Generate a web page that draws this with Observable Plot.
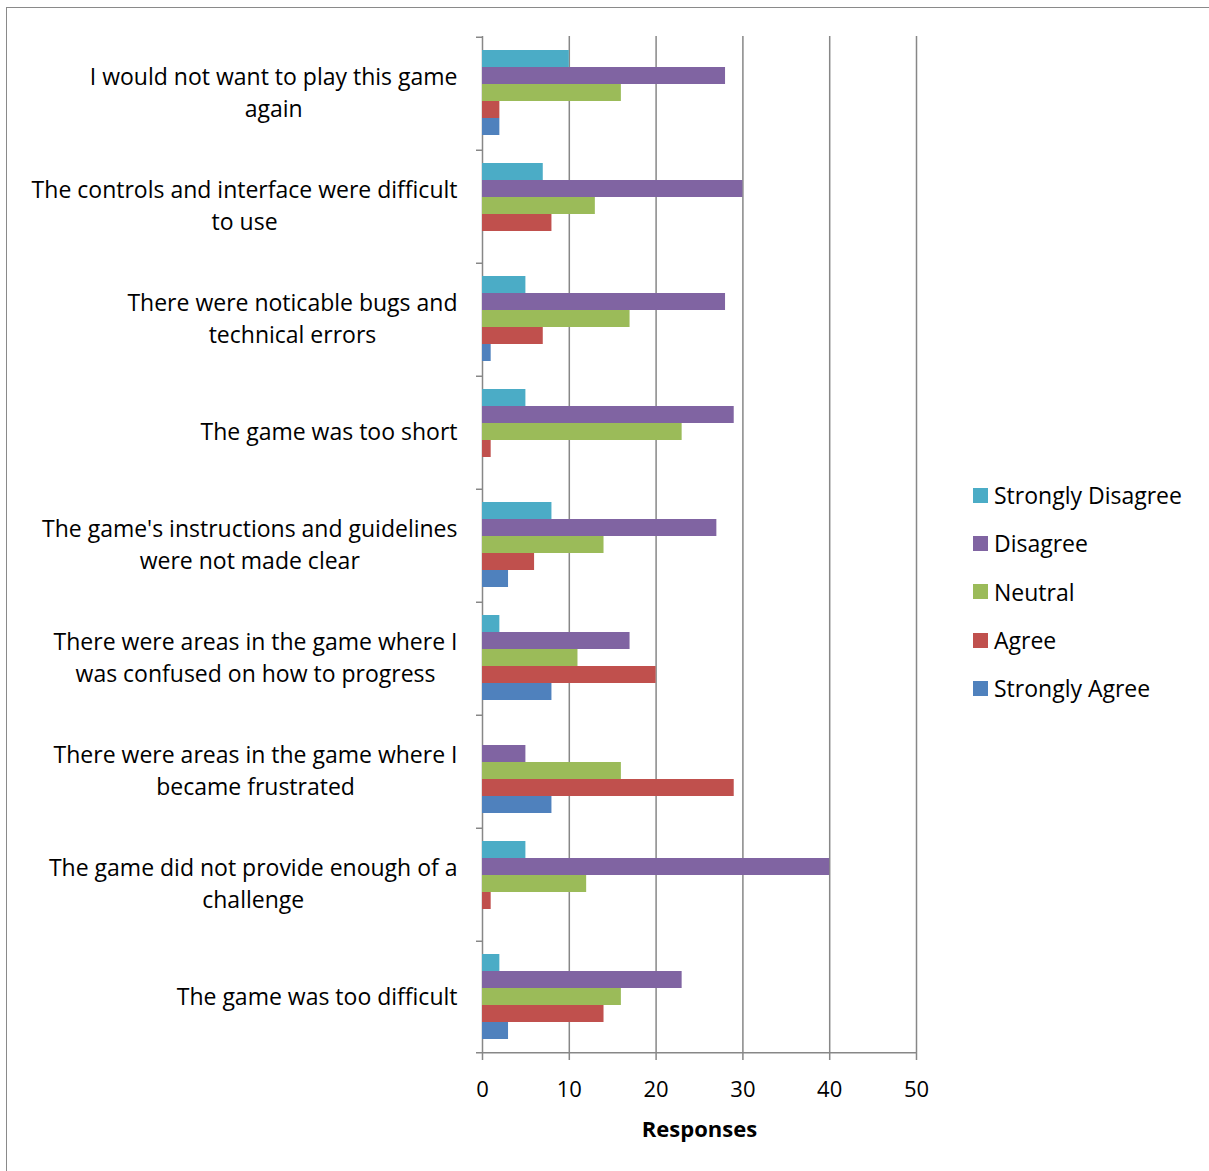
<!DOCTYPE html>
<html><head><meta charset="utf-8">
<script src="https://cdn.jsdelivr.net/npm/d3@7"></script>
<script src="https://cdn.jsdelivr.net/npm/@observablehq/plot@0.6"></script>
<style>
body{margin:0;background:#fff;overflow:hidden;width:1209px;height:1171px;position:relative;font-family:"Open Sans", sans-serif;color:#000;}
#frame{position:absolute;left:6px;top:7px;width:1400px;height:1400px;border-left:1.5px solid #8a8a8a;border-top:1.5px solid #8a8a8a;box-sizing:border-box;}
#chart{position:absolute;left:0;top:0;}
#legend{position:absolute;left:973px;top:471px;font-size:23px;}
#legend .item{display:flex;align-items:center;height:48.3px;}
#legend .sw{width:15px;height:15px;margin-right:6px;}
g[aria-label="x-axis label"] text{font-weight:bold;}
g[aria-label="fy-axis tick label"] text{font-size:23px;}
</style></head><body>
<div id="frame"></div>
<div id="chart"></div>
<div id="legend"></div>
<script>
const questions = [
  "I would not want to play this game again",
  "The controls and interface were difficult to use",
  "There were noticable bugs and technical errors",
  "The game was too short",
  "The game's instructions and guidelines were not made clear",
  "There were areas in the game where I was confused on how to progress",
  "There were areas in the game where I became frustrated",
  "The game did not provide enough of a challenge",
  "The game was too difficult"
];
const questionLabels = [
  "I would not want to play this game\nagain",
  "The controls and interface were difficult\nto use",
  "There were noticable bugs and\ntechnical errors",
  "The game was too short",
  "The game's instructions and guidelines\nwere not made clear",
  "There were areas in the game where I\nwas confused on how to progress",
  "There were areas in the game where I\nbecame frustrated",
  "The game did not provide enough of a\nchallenge",
  "The game was too difficult"
];
const series = ["Strongly Disagree", "Disagree", "Neutral", "Agree", "Strongly Agree"];
const colors = ["#4BACC6", "#8064A2", "#9BBB59", "#C0504D", "#4F81BD"];
const stronglyDisagree = [10, 7, 5, 5, 8, 2, 0, 5, 2];
const disagree         = [28, 30, 28, 29, 27, 17, 5, 40, 23];
const neutral          = [16, 13, 17, 23, 14, 11, 16, 12, 16];
const agree            = [2, 8, 7, 1, 6, 20, 29, 1, 14];
const stronglyAgree    = [2, 0, 1, 0, 3, 8, 8, 0, 3];
const xTicks = [0, 10, 20, 30, 40, 50];

const seriesValues = [stronglyDisagree, disagree, neutral, agree, stronglyAgree];
const table = questions.flatMap((q, i) => series.map((s, j) => ({question: q, series: s, value: seriesValues[j][i]})));
const labelOf = Object.fromEntries(questions.map((q, i) => [q, questionLabels[i]]));

const width = 960, height = 1171, marginTop = 36, marginBottom = 118, marginLeft = 482, marginRight = 44;
const yPadOuter = 0.75;
const facetH = (height - marginTop - marginBottom) / questions.length;
const step = facetH / (series.length + 2 * yPadOuter);
const edge = step * (0.5 + yPadOuter);
const grid = "#878787";

const chart = Plot.plot({
  width, height, marginTop, marginBottom, marginLeft, marginRight,
  style: {fontFamily: "'Open Sans', sans-serif", fontSize: "22px", color: "#000", background: "transparent"},
  x: {domain: [0, 50], ticks: xTicks, axis: null},
  y: {domain: series, padding: 0, paddingOuter: yPadOuter, axis: null},
  fy: {domain: questions, padding: 0, axis: null},
  color: {domain: series, range: colors},
  marks: [
    Plot.ruleX(xTicks, {x: d => d, stroke: grid, strokeWidth: 1.5}),
    Plot.barX(table, {fy: "question", y: "series", x: "value", fill: "series"}),
    Plot.ruleY(questions, {fy: d => d, y: () => series[0], x1: 0, x2: 0, insetLeft: -6, dy: -edge, stroke: grid, strokeWidth: 1.5}),
    Plot.ruleY([questions[questions.length - 1]], {fy: d => d, y: () => series[series.length - 1], x1: 0, x2: d3.max(xTicks), insetLeft: -6, dy: edge, stroke: grid, strokeWidth: 1.5}),
    Plot.axisFy({anchor: "left", tickSize: 0, tickPadding: 25, tickFormat: d => labelOf[d], lineHeight: 1.39, label: null, fill: "#000", dy: -2}),
    Plot.axisX({ticks: xTicks, tickSize: 7, tickPadding: 21, stroke: grid, strokeWidth: 1.5, fill: "#000", label: "Responses", labelAnchor: "center", labelArrow: "none", labelOffset: 83})
  ]
});
document.getElementById("chart").appendChild(chart);

// centre the wrapped lines of each category label within its right-aligned block
chart.querySelectorAll('g[aria-label="fy-axis tick label"] text').forEach(t => {
  const spans = Array.from(t.querySelectorAll("tspan"));
  if (spans.length < 2) return;
  const w = d3.max(spans, s => s.getComputedTextLength());
  t.setAttribute("text-anchor", "middle");
  spans.forEach(s => {
    const x0 = parseFloat(s.getAttribute("x") || t.getAttribute("x") || 0);
    s.setAttribute("x", x0 - w / 2);
  });
});

const legend = document.getElementById("legend");
series.forEach((s, i) => {
  const item = document.createElement("div");
  item.className = "item";
  const sw = document.createElement("div");
  sw.className = "sw";
  sw.style.background = colors[i];
  const t = document.createElement("span");
  t.textContent = s;
  item.appendChild(sw); item.appendChild(t);
  legend.appendChild(item);
});
</script>
</body></html>
